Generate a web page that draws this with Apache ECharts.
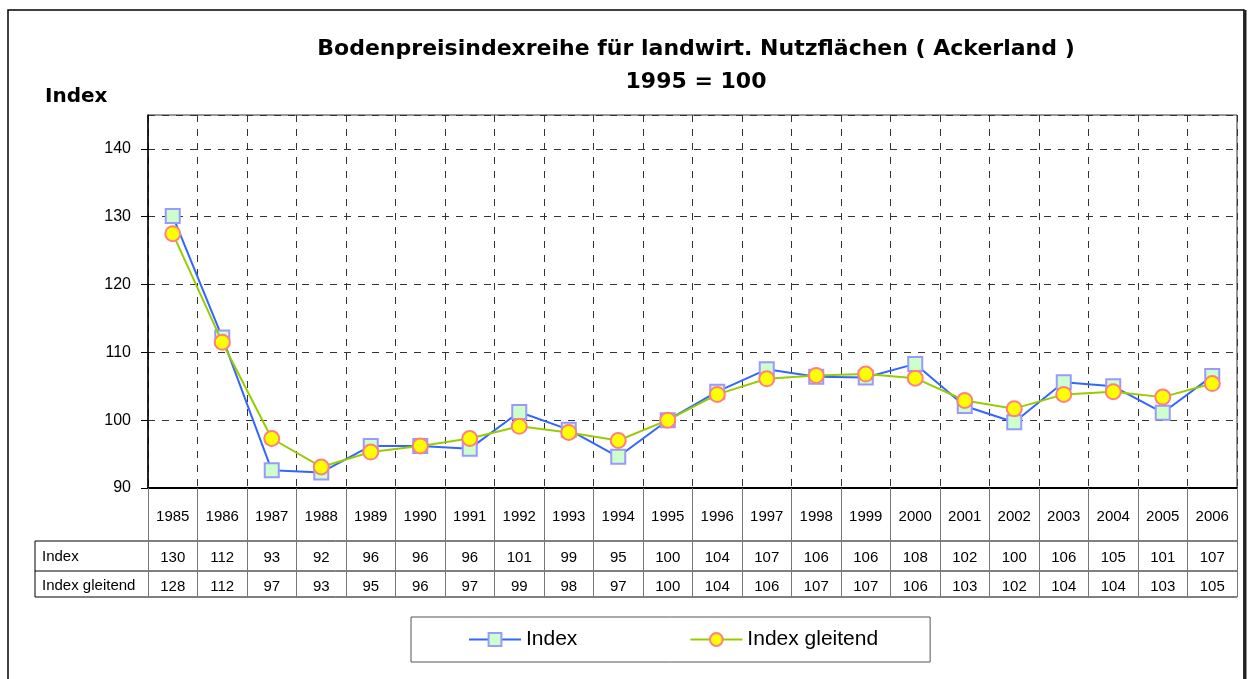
<!DOCTYPE html>
<html>
<head>
<meta charset="utf-8">
<title>Bodenpreisindexreihe</title>
<script src="https://cdn.jsdelivr.net/npm/echarts@6/dist/echarts.min.js"></script>
<style>
html, body { margin: 0; padding: 0; background: #fff; }
#chart { width: 1253px; height: 679px; }
</style>
</head>
<body>
<div id="chart"></div>
<script>
// Jahre und Werte
var years = ['1985', '1986', '1987', '1988', '1989', '1990', '1991', '1992', '1993', '1994', '1995',
    '1996', '1997', '1998', '1999', '2000', '2001', '2002', '2003', '2004', '2005', '2006'];
var indexValues = [130.1, 112.2, 92.6, 92.3, 96.2, 96.2, 95.8, 101.2, 98.6, 94.6, 100,
    104.2, 107.5, 106.4, 106.3, 108.3, 102.1, 99.7, 105.6, 105.0, 101.1, 106.5];
var gleitendValues = [127.5, 111.5, 97.3, 93.1, 95.3, 96.2, 97.3, 99.1, 98.2, 97.0, 100,
    103.8, 106.1, 106.6, 106.8, 106.2, 102.9, 101.7, 103.8, 104.2, 103.4, 105.4];
// Tabellenwerte wie gedruckt
var indexTable = ['130', '112', '93', '92', '96', '96', '96', '101', '99', '95', '100',
    '104', '107', '106', '106', '108', '102', '100', '106', '105', '101', '107'];
var gleitendTable = ['128', '112', '97', '93', '95', '96', '97', '99', '98', '97', '100',
    '104', '106', '107', '107', '106', '103', '102', '104', '104', '103', '105'];
var yTicks = [90, 100, 110, 120, 130, 140];

var font = 'Liberation Sans, Arial, sans-serif';
var boldFont = 'DejaVu Sans, Liberation Sans, sans-serif';
var L = 148, R = 1237, T = 115, B = 488;

var chart = echarts.init(document.getElementById('chart'));

var option = {
    backgroundColor: '#fff',
    animation: false,
    textStyle: { fontFamily: font },
    title: [
        {
            text: 'Bodenpreisindexreihe für landwirt. Nutzflächen ( Ackerland )\n1995 = 100',
            left: 696,
            top: 33,
            padding: 0,
            textAlign: 'center',
            textStyle: { fontSize: 22, fontWeight: 'bold', color: '#000', lineHeight: 33, fontFamily: boldFont }
        },
        {
            text: 'Index',
            left: 45,
            top: 87,
            padding: 0,
            textStyle: { fontSize: 20, fontWeight: 'bold', color: '#000', fontFamily: boldFont }
        }
    ],
    legend: {
        left: 411,
        top: 617,
        orient: 'horizontal',
        data: ['Index', 'Index gleitend'],
        itemWidth: 52,
        itemHeight: 16,
        itemGap: 112,
        padding: [12, 52, 12, 57],
        borderColor: '#555',
        borderWidth: 1,
        textStyle: { fontSize: 21, color: '#000', fontFamily: font }
    },
    grid: {
        left: L,
        right: 1253 - R,
        top: T,
        bottom: 679 - B,
        show: true,
        borderColor: '#333',
        borderWidth: 1
    },
    xAxis: [
        {
            type: 'category',
            data: years,
            boundaryGap: true,
            position: 'bottom',
            axisLine: { show: true, lineStyle: { color: '#000', width: 2 } },
            axisTick: { show: true, interval: 0, length: 109, lineStyle: { color: '#777', width: 1 } },
            axisLabel: { interval: 0, margin: 21, fontSize: 15, color: '#000', fontFamily: font },
            splitLine: { show: true, interval: 0, lineStyle: { color: '#333', type: [7, 7], width: 1 } }
        },
        {
            type: 'category',
            data: years,
            position: 'bottom',
            offset: 53,
            axisLine: { show: false },
            axisTick: { show: false },
            splitLine: { show: false },
            axisLabel: {
                interval: 0, margin: 9, fontSize: 15, color: '#000', fontFamily: font,
                formatter: function (v, i) { return indexTable[i]; }
            }
        },
        {
            type: 'category',
            data: years,
            position: 'bottom',
            offset: 83,
            axisLine: { show: false },
            axisTick: { show: false },
            splitLine: { show: false },
            axisLabel: {
                interval: 0, margin: 8, fontSize: 15, color: '#000', fontFamily: font,
                formatter: function (v, i) { return gleitendTable[i]; }
            }
        }
    ],
    yAxis: {
        type: 'value',
        min: 90,
        max: 145,
        interval: 10,
        axisLine: { show: true, lineStyle: { color: '#000', width: 1.5 } },
        axisTick: { show: true, length: 7, lineStyle: { color: '#000' } },
        axisLabel: {
            margin: 17, fontSize: 16, color: '#000', fontFamily: font, showMaxLabel: false,
            formatter: function (v) { return yTicks.indexOf(v) >= 0 ? String(v) : ''; }
        },
        splitLine: { show: true, lineStyle: { color: '#333', type: [7, 7], width: 1 } }
    },
    series: [
        {
            name: 'Index',
            type: 'line',
            data: indexValues,
            symbol: 'rect',
            symbolSize: 14,
            lineStyle: { color: '#3366ff', width: 2 },
            itemStyle: { color: '#ccffcc', borderColor: '#9999ff', borderWidth: 2 },
            z: 3
        },
        {
            name: 'Index gleitend',
            type: 'line',
            data: gleitendValues,
            symbol: 'circle',
            symbolSize: 15,
            lineStyle: { color: '#99cc00', width: 2 },
            itemStyle: { color: '#ffff00', borderColor: '#ff8080', borderWidth: 2 },
            z: 4
        }
    ],
    graphic: [
        // äußerer Rahmen
        { type: 'rect', shape: { x: 8, y: 10, width: 1236, height: 720 }, style: { fill: 'none', stroke: '#000', lineWidth: 1.5 }, silent: true },
        { type: 'line', shape: { x1: 1245, y1: 10, x2: 1245, y2: 679 }, style: { stroke: '#222', lineWidth: 3 }, silent: true },
        // Tabellenlinien
        { type: 'line', shape: { x1: 35, y1: 541, x2: R, y2: 541 }, style: { stroke: '#000', lineWidth: 1 }, silent: true },
        { type: 'line', shape: { x1: 35, y1: 571, x2: R, y2: 571 }, style: { stroke: '#000', lineWidth: 1 }, silent: true },
        { type: 'line', shape: { x1: 35, y1: 597, x2: R, y2: 597 }, style: { stroke: '#000', lineWidth: 1 }, silent: true },
        { type: 'line', shape: { x1: 35, y1: 541, x2: 35, y2: 597 }, style: { stroke: '#000', lineWidth: 1 }, silent: true },
        { type: 'text', left: 42, top: 549, style: { text: 'Index', fontSize: 15, fill: '#000', fontFamily: font }, silent: true },
        { type: 'text', left: 42, top: 578, style: { text: 'Index gleitend', fontSize: 15, fill: '#000', fontFamily: font }, silent: true }
    ]
};

chart.setOption(option);
</script>
</body>
</html>
